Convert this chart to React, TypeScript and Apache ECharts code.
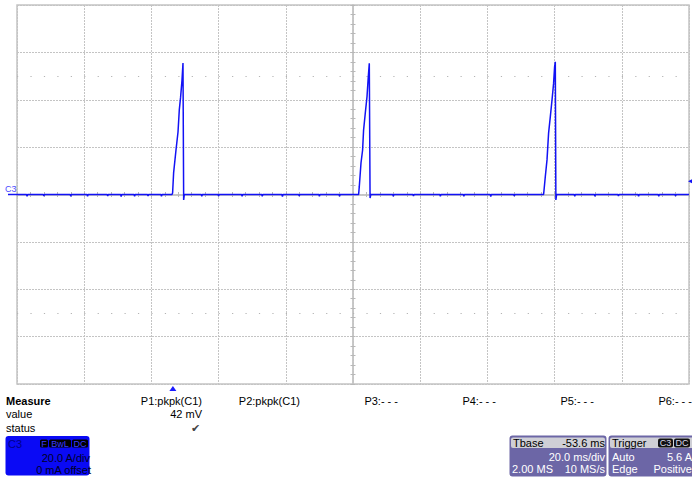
import React, { useEffect, useRef } from "react";
import * as echarts from "echarts";

// time in ms relative to screen centre, current in A
const timeMin = -100;
const timeMax = 100;
const timeDiv = 20;
const ampMin = -80;
const ampMax = 80;
const ampDiv = 20;

const spike1: number[][] = [
  [-53.87, 0], [-53.69, 0.6], [-53.39, 9.1], [-52.68, 18.8], [-52.08, 26.4],
  [-51.7, 35.7], [-51.31, 41.1], [-50.89, 48.3], [-50.6, 55.5], [-50.42, 55.5],
  [-50.4, -2.3], [-50.2, 0],
];
const spike2: number[][] = [
  [1.67, 0], [1.87, 3.3], [2.38, 13.3], [2.86, 18.8], [3.15, 27.2],
  [3.66, 34.4], [4.17, 41.3], [4.55, 49.7], [4.85, 55.4], [5.06, 55.4],
  [5.08, -1.5], [5.3, 0],
];
const spike3: number[][] = [
  [56.73, 0], [57.23, 7.5], [57.74, 14.6], [58.21, 25.9], [58.72, 32.8],
  [59.23, 39.9], [59.7, 46.9], [60.0, 53.9], [60.21, 56.0], [60.36, 56.0],
  [60.38, -2.3], [60.6, 0],
];
const baselineEnds: number[][] = [[-100, 0], [100, 0]];
const noiseTimes = [-97, -92, -84, -79, -73, -69, -65, -61, -57, -45, -40, -33, -27, -21, -16, -10, -4, 12, 18, 26, 33, 41, 48, 66, 72, 79, 85, 91, 96];
const noiseAmps = [-0.8, -0.6, -0.7, -0.8, -0.6, -0.9, -0.7, -0.6, -0.8, -0.7, -0.6, -0.8, -0.7, -0.9, -0.6, -0.7, -0.8, -0.7, -0.6, -0.8, -0.7, -0.9, -0.6, -0.8, -0.7, -0.6, -0.8, -0.7, -0.6];
const triggerLevel = 5.6;
const triggerTime = -53.6;

const FONT = "'Liberation Sans', Arial, sans-serif";

function txt(text: string, x: number, y: number, opts: any = {}) {
  const align = opts.align || "left";
  return {
    type: "text",
    silent: true,
    z: 100,
    style: {
      text,
      x,
      y,
      fill: opts.fill || "#000",
      fontSize: opts.size || 11,
      fontFamily: FONT,
      fontWeight: opts.bold ? "bold" : "normal",
      align,
      textAlign: align,
      verticalAlign: "middle",
      textVerticalAlign: "middle",
    },
  };
}

function rect(x: number, y: number, w: number, h: number, fill: string, r = 0) {
  return { type: "rect", silent: true, z: 90, shape: { x, y, width: w, height: h, r }, style: { fill } };
}

export default function App() {
  const ref = useRef<HTMLDivElement>(null);
  useEffect(() => {
    if (!ref.current) return;
    const chart = echarts.init(ref.current, undefined, { renderer: "svg" });

    const noisePts: number[][] = [];
    noiseTimes.forEach((t, i) => {
      noisePts.push([t - 0.15, 0], [t, noiseAmps[i]], [t + 0.15, 0]);
    });
    const data = [...baselineEnds, ...noisePts, ...spike1, ...spike2, ...spike3].sort((a, b) => a[0] - b[0]);

    const gridL = 17, gridT = 5, gridW = 672, gridH = 379;
    const pxPerMs = gridW / (timeMax - timeMin);
    const pxPerA = gridH / (ampMax - ampMin);
    const cy = gridT + gridH / 2;
    const trigY = cy - triggerLevel * pxPerA;
    const trigX = gridL + (triggerTime - timeMin) * pxPerMs;

    const axisCommon = {
      type: "value",
      min: 0,
      max: 0,
      interval: 0,
      axisLabel: { show: false },
      axisLine: { show: true, onZero: true, onZeroAxisIndex: 0, lineStyle: { color: "#c4c4c4", width: 1.5 } },
      axisTick: { show: true, length: 2.5, lineStyle: { color: "#b8b8b8", width: 1 } },
      minorTick: { show: true, splitNumber: 5, length: 2.5, lineStyle: { color: "#b8b8b8", width: 1 } },
    };
    const splitStyle = { show: true, lineStyle: { color: "#c4c4c4", type: [2, 1], width: 1 } };

    const xBase = { ...axisCommon, min: timeMin, max: timeMax, interval: timeDiv };
    const yBase = { ...axisCommon, min: ampMin, max: ampMax, interval: ampDiv };

    const box = "#6c66a6";
    const hdr = "#cfcfd6";

    chart.setOption({
      animation: false,
      backgroundColor: "#fff",
      grid: {
        left: gridL, top: gridT, width: gridW, height: gridH,
        show: true, borderColor: "#c4c4c4", borderWidth: 1.5, backgroundColor: "transparent",
      },
      xAxis: [
        { ...xBase, position: "bottom", splitLine: splitStyle },
        { ...xBase, position: "top", splitLine: { show: false } },
      ],
      yAxis: [
        { ...yBase, position: "left", splitLine: splitStyle },
        { ...yBase, position: "right", splitLine: { show: false } },
      ],
      series: [
        {
          type: "line",
          xAxisIndex: 0,
          yAxisIndex: 0,
          data,
          showSymbol: false,
          symbol: "none",
          z: 10,
          lineStyle: { color: "#1212f5", width: 1.5 },
          markLine: {
            silent: true,
            symbol: "none",
            label: { show: false },
            lineStyle: { color: "#b4b4b4", type: [1.2, 12.24], width: 1.2 },
            data: [{ yAxis: 50 }, { yAxis: -50 }],
          },
        },
      ],
      graphic: [
        // channel label & ground marker
        txt("C3", 5, cy - 6, { fill: "#4b4bff", size: 9 }),
        { type: "line", silent: true, z: 50, shape: { x1: 8, y1: cy, x2: gridL, y2: cy }, style: { stroke: "#1212f5", lineWidth: 1.5 } },
        // trigger level marker
        { type: "polygon", silent: true, z: 50, shape: { points: [[688, trigY], [692, trigY - 2], [692, trigY + 2]] }, style: { fill: "#1212f5" } },
        // trigger position marker
        { type: "polygon", silent: true, z: 50, shape: { points: [[trigX, gridT + gridH + 2], [trigX - 3.5, gridT + gridH + 7], [trigX + 3.5, gridT + gridH + 7]] }, style: { fill: "#1a1aff" } },
        // measure table
        txt("Measure", 6, 400.5, { bold: true }),
        txt("value", 6, 414),
        txt("status", 6, 427.5),
        txt("P1:pkpk(C1)", 202, 400.5, { align: "right" }),
        txt("42 mV", 202, 414, { align: "right" }),
        txt("\u2714", 195, 427.5, { fill: "#444", size: 11, align: "center" }),
        txt("P2:pkpk(C1)", 300, 400.5, { align: "right" }),
        txt("P3:- - -", 398, 400.5, { align: "right" }),
        txt("P4:- - -", 496, 400.5, { align: "right" }),
        txt("P5:- - -", 594, 400.5, { align: "right" }),
        txt("P6:- - -", 692, 400.5, { align: "right" }),
        // C3 channel box
        rect(5.5, 436, 84, 39.5, "#0a0af5", 3),
        txt("C3", 8, 443.5, { fill: "#00008a" }),
        rect(40, 439.5, 8, 8, "#000", 1.5),
        txt("F", 44, 443.5, { fill: "#3a3aff", size: 9, align: "center" }),
        rect(49, 439.5, 22, 8, "#000", 1.5),
        txt("BwL", 60, 443.5, { fill: "#3a3aff", size: 9, align: "center" }),
        rect(72, 439.5, 16, 8, "#000", 1.5),
        txt("DC", 80, 443.5, { fill: "#3a3aff", size: 9, align: "center" }),
        txt("20.0 A/div", 90, 458, { fill: "#000028", align: "right" }),
        txt("0 mA offset", 91, 469.5, { fill: "#000028", align: "right" }),
        // Tbase box
        rect(509.5, 435.5, 97, 41, box, 3),
        rect(511, 437.5, 94, 10.5, hdr, 2),
        txt("Tbase", 513, 443, { fill: "#000" }),
        txt("-53.6 ms", 605, 443, { fill: "#000", align: "right" }),
        txt("20.0 ms/div", 605, 457, { fill: "#fff", align: "right" }),
        txt("2.00 MS", 512, 469, { fill: "#fff" }),
        txt("10 MS/s", 605, 469, { fill: "#fff", align: "right" }),
        // Trigger box
        rect(608.5, 435.5, 90, 41, box, 3),
        rect(610, 437.5, 90, 10.5, hdr, 2),
        txt("Trigger", 612, 443, { fill: "#000" }),
        rect(658, 438.5, 15, 9, "#111", 2),
        txt("C3", 665.5, 443, { fill: "#d8d8e8", size: 9, align: "center" }),
        rect(674, 438.5, 16, 9, "#111", 2),
        txt("DC", 682, 443, { fill: "#d8d8e8", size: 9, align: "center" }),
        txt("Auto", 612, 457, { fill: "#fff" }),
        txt("5.6 A", 692, 457, { fill: "#fff", align: "right" }),
        txt("Edge", 612, 469, { fill: "#fff" }),
        txt("Positive", 692, 469, { fill: "#fff", align: "right" }),
      ],
    });
    return () => chart.dispose();
  }, []);
  return (
    <div
      ref={ref}
      style={{ position: "fixed", left: 0, top: 0, width: 692, height: 478, background: "#fff" }}
    />
  );
}
